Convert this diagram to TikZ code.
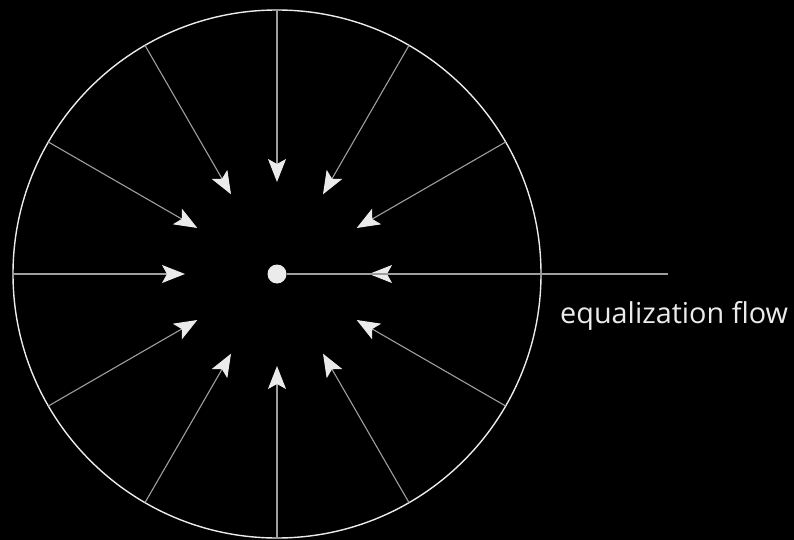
\documentclass[tikz,border=0pt]{standalone}
\usepackage{fontspec}
\setmainfont{Open Sans}
\usetikzlibrary{arrows.meta}

\definecolor{ring}{gray}{0.92}
\definecolor{stem}{gray}{0.62}

\tikzset{
  inflow/.style={stem, line width=1.1pt, -{Stealth[length=23pt, width=18pt, inset=5pt, color=ring]}},
  axis/.style={stem, line width=1.3pt},
}

\begin{document}
\begin{tikzpicture}[x=1pt, y=-1pt]
        % Background
        \fill[black] (0,0) rectangle (794,540);

        % Centre dot and outer circle
        \node[circle, fill=ring, inner sep=0pt, minimum size=19pt] (c) at (277,274) {};
        \draw[ring, line width=1.4pt] (c.center) circle (264);

        % Radial arrows
        \foreach \a in {0,30,...,330} {
            \coordinate (o\a) at ([shift={(\a:264)}]c.center);
            \coordinate (i\a) at ([shift={(\a:92)}]c.center);
            \draw[inflow] (o\a) -- (i\a);
        }

        % Label line
        \coordinate (e) at (668,274);
        \draw[axis] (c) -- (e);

        % Label
        \node[anchor=base west, inner sep=0pt, text=ring, font=\fontsize{28.8}{34}\selectfont] (lbl) at (560,323) {equalization flow};
    \end{tikzpicture}
\end{document}
